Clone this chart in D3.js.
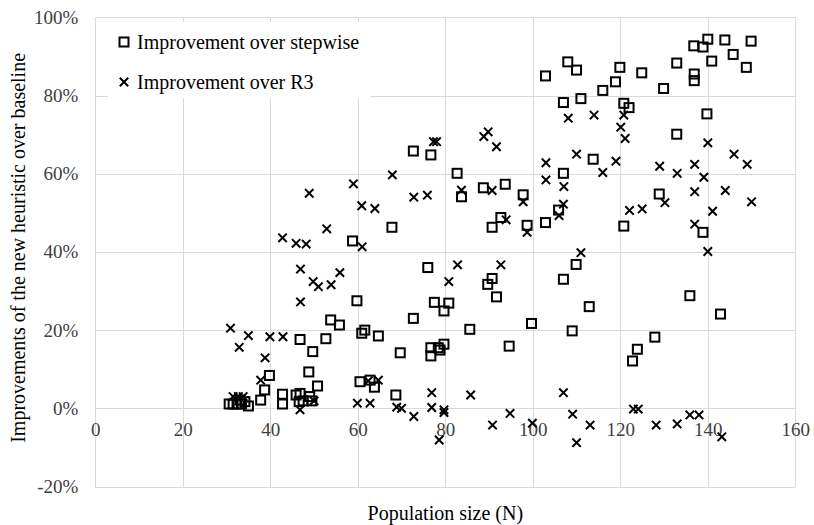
<!DOCTYPE html>
<html>
<head>
<meta charset="utf-8">
<script src="https://cdn.jsdelivr.net/npm/d3@7"></script>
<style>
  html, body { margin: 0; padding: 0; background: #fff; }
  svg { display: block; }
  text { font-family: "Liberation Serif", "Times New Roman", serif; }
</style>
</head>
<body>
<svg id="chart" width="814" height="525"></svg>
<script>
// ---- data ----
const xTicks = [0, 20, 40, 60, 80, 100, 120, 140, 160];
const yTicks = [-20, 0, 20, 40, 60, 80, 100];
const seriesNames = ["Improvement over stepwise", "Improvement over R3"];
const xTitle = "Population size (N)";
const yTitle = "Improvements of the new heuristic over baseline";

// Improvement over stepwise: [N, %]
const stepwiseN = [30.6,31.5,32.4,33.4,33.1,34.2,35.0,37.8,38.7,39.8,42.8,42.8,45.9,46.8,46.6,47.5,49.0,49.5,48.8,50.8,
  46.8,49.7,52.7,53.8,55.8,59.8,58.8,60.5,62.8,63.8,60.9,61.6,64.7,67.8,68.7,69.7,72.7,72.7,76.7,76.0,
  77.5,76.7,76.7,78.4,78.8,79.7,79.7,80.8,82.7,83.7,85.6,88.7,89.7,90.7,90.7,91.7,92.7,93.7,94.6,97.8,
  98.7,99.7,102.9,102.9,105.9,107.0,107.0,107.0,108.0,109.0,109.9,110.0,111.0,112.9,113.8,116.0,118.9,119.9,120.8,122.0,
  120.8,122.8,123.9,124.9,127.9,128.9,129.9,132.9,132.9,135.9,136.8,136.9,136.9,138.9,138.9,139.8,140.0,140.9,142.9,143.9,
  145.8,148.8,149.9];
const stepwiseV = [1.1,1.1,1.1,1.1,2.1,1.7,0.6,2.1,4.7,8.4,3.6,1.1,3.4,3.8,1.7,1.9,3.0,1.9,9.3,5.7,
  17.6,14.5,17.8,22.6,21.3,27.5,42.8,6.8,7.2,5.4,19.2,20.0,18.5,46.3,3.4,14.2,65.8,23.0,64.8,36.0,
  27.1,15.5,13.4,15.5,14.9,16.4,24.9,26.9,60.1,54.1,20.2,56.4,31.7,33.2,46.3,28.5,48.8,57.3,15.9,54.6,
  46.8,21.7,47.5,85.0,50.7,60.1,78.2,33.0,88.6,19.8,36.8,86.5,79.2,26.0,63.7,81.3,83.5,87.2,78.0,76.9,
  46.6,12.1,15.1,85.8,18.2,54.8,81.8,88.3,70.1,28.8,92.7,85.5,83.8,92.4,45.0,75.3,94.4,88.8,24.1,94.2,
  90.5,87.2,93.9];

// Improvement over R3: [N, %]
const r3N = [30.9,35.0,32.9,31.5,32.7,33.8,37.8,38.8,39.9,42.9,42.8,45.9,48.2,46.9,46.9,46.8,48.9,49.8,51.0,50.0,
  52.9,53.9,55.9,59.0,60.9,61.0,59.9,62.8,62.4,64.7,63.9,67.9,68.9,70.0,72.8,72.8,75.9,76.9,76.9,77.3,
  78.0,78.6,79.7,79.7,80.8,82.8,83.7,85.8,88.8,89.8,90.7,90.8,91.7,92.7,93.9,94.8,97.8,98.7,99.9,103.0,
  103.0,106.0,107.0,107.1,107.0,108.1,109.1,110.0,110.0,111.0,113.1,114.0,116.0,119.0,120.1,120.8,121.1,122.1,123.0,124.1,
  125.0,128.2,129.0,130.2,133.0,133.0,135.9,137.0,137.0,137.0,138.0,139.1,140.0,140.0,141.1,143.2,144.0,146.0,149.0,150.0];
const r3V = [20.5,18.6,15.6,3.0,3.0,3.0,7.2,12.9,18.3,18.3,43.6,42.2,42.0,35.6,27.2,-0.4,55.0,32.4,31.1,1.9,
  45.9,31.6,34.7,57.4,51.8,41.3,1.3,1.3,7.0,7.2,51.1,59.7,0.3,0.0,54.0,-2.1,54.5,4.0,0.2,68.2,
  68.2,-8.1,-0.4,-1.1,32.4,36.7,55.8,3.4,69.5,70.7,55.7,-4.3,66.9,36.7,48.2,-1.3,52.8,45.0,-3.8,62.8,
  58.4,49.3,52.2,56.7,4.0,74.2,-1.5,65.0,-8.8,39.8,-4.3,75.0,60.3,63.2,71.9,75.0,69.0,50.6,-0.2,-0.2,
  51.0,-4.3,61.9,52.6,60.1,-4.0,-1.7,62.4,55.4,47.1,-1.7,59.1,67.9,40.1,50.4,-7.3,55.7,65.0,62.4,52.8];

// ---- layout ----
const svg = d3.select("#chart");
const x = d3.scaleLinear().domain([0, 160]).range([95.3, 795.3]);
const y = d3.scaleLinear().domain([-20, 100]).range([486.5, 17.3]);
const gridColor = "#d9d9d9";
const tickColor = "#404040";

// vertical gridlines
svg.append("g")
  .attr("transform", `translate(0,${y(-20)})`)
  .call(d3.axisBottom(x).tickValues(xTicks).tickSize(-(y(-20) - y(100))).tickFormat(""))
  .call(g => g.select(".domain").remove())
  .call(g => g.selectAll("line").attr("stroke", gridColor).attr("stroke-width", 1).attr("shape-rendering", "crispEdges"));

// horizontal gridlines
svg.append("g")
  .attr("transform", `translate(${x(0)},0)`)
  .call(d3.axisLeft(y).tickValues(yTicks).tickSize(-(x(160) - x(0))).tickFormat(""))
  .call(g => g.select(".domain").remove())
  .call(g => g.selectAll("line").attr("stroke", gridColor).attr("stroke-width", 1).attr("shape-rendering", "crispEdges"));

// y tick labels
svg.append("g")
  .attr("transform", `translate(${x(0)},0)`)
  .call(d3.axisLeft(y).tickValues(yTicks).tickSize(0).tickPadding(17).tickFormat(d => d + "%"))
  .call(g => g.select(".domain").remove())
  .call(g => g.selectAll("text").attr("fill", tickColor).style("font-size", "19px")
      .style("font-family", "'Liberation Serif', serif"));

// x tick labels (axis crosses at 0%)
svg.append("g")
  .attr("transform", `translate(0,${y(0)})`)
  .call(d3.axisBottom(x).tickValues(xTicks).tickSize(0).tickPadding(14).tickFormat(d3.format("d")))
  .call(g => g.select(".domain").remove())
  .call(g => g.selectAll("text").attr("fill", tickColor).style("font-size", "19px")
      .style("font-family", "'Liberation Serif', serif"));

// ---- marks ----
const sq = 9;
const stepData = stepwiseN.map((n, i) => ({ n, v: stepwiseV[i] }));
const r3Data = r3N.map((n, i) => ({ n, v: r3V[i] }));

svg.append("g").selectAll("rect").data(stepData).join("rect")
  .attr("x", d => x(d.n) - sq / 2)
  .attr("y", d => y(d.v) - sq / 2)
  .attr("width", sq).attr("height", sq)
  .attr("fill", "none").attr("stroke", "#000").attr("stroke-width", 2);

const cs = 4.2;
const crossPath = (cx, cy) => `M${cx - cs},${cy - cs}L${cx + cs},${cy + cs}M${cx - cs},${cy + cs}L${cx + cs},${cy - cs}`;
svg.append("g").selectAll("path").data(r3Data).join("path")
  .attr("d", d => crossPath(x(d.n), y(d.v)))
  .attr("fill", "none").attr("stroke", "#000").attr("stroke-width", 2);

// ---- legend ----
const lg = svg.append("g");
lg.append("rect").attr("x", 108).attr("y", 22).attr("width", 262).attr("height", 76).attr("fill", "#fff");
lg.append("rect").attr("x", 124 - sq / 2).attr("y", 42 - sq / 2).attr("width", sq).attr("height", sq)
  .attr("fill", "none").attr("stroke", "#000").attr("stroke-width", 2);
lg.append("path").attr("d", crossPath(124, 82)).attr("fill", "none").attr("stroke", "#000").attr("stroke-width", 2);
lg.append("text").attr("x", 137).attr("y", 49).style("font-size", "20px").attr("fill", "#000").text(seriesNames[0]);
lg.append("text").attr("x", 137).attr("y", 89).style("font-size", "20px").attr("fill", "#000").text(seriesNames[1]);

// ---- axis titles ----
svg.append("text").attr("x", (x(0) + x(160)) / 2).attr("y", 520).attr("text-anchor", "middle")
  .style("font-size", "20px").attr("fill", "#000").text(xTitle);
svg.append("text").attr("transform", `translate(25,${(y(100) + y(-20)) / 2 - 4}) rotate(-90)`)
  .attr("text-anchor", "middle").style("font-size", "20px").attr("fill", "#000").text(yTitle);
</script>
</body>
</html>
